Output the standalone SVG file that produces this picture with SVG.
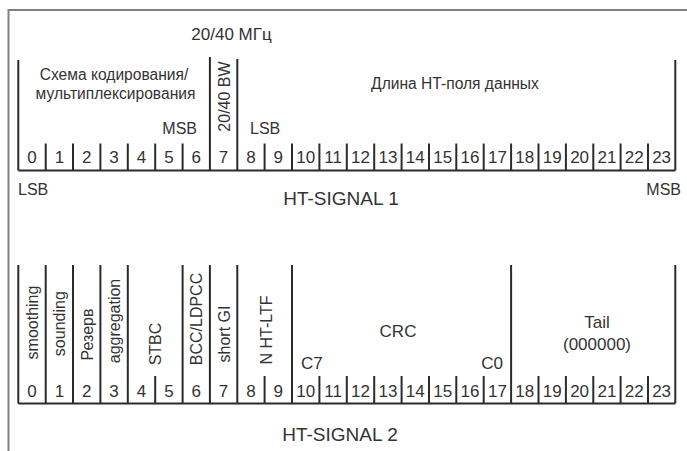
<svg xmlns="http://www.w3.org/2000/svg" width="687" height="451" viewBox="0 0 687 451">
<style>
text{font-family:"Liberation Sans",Arial,sans-serif;fill:#333;}
.d{font-size:17px;text-anchor:middle;}
.s15{font-size:15.6px;}
.s16{font-size:16px;}
.s17{font-size:17px;}
.s19{font-size:19px;}
.m{text-anchor:middle;}
.e{text-anchor:end;}
.ln{stroke:#2b2b2b;stroke-width:2;fill:none;}
.fr{stroke:#808080;stroke-width:2;fill:none;}
</style>
<rect width="687" height="451" fill="#fff"/>
<g id="frame"><path class="fr" d="M8.5,451 V10 H687"/></g>
<g id="connectors">
<path class="ln" d="M18.3,170.5 H675.3 M18.3,60 V170.5 M675.3,60 V170.5 M209.9,57 V170.5 M237.3,59 V170.5 M45.7,143.5 V170.5 M73,143.5 V170.5 M100.4,143.5 V170.5 M127.8,143.5 V170.5 M155.2,143.5 V170.5 M182.6,143.5 V170.5 M264.6,143.5 V170.5 M292,143.5 V170.5 M319.4,143.5 V170.5 M346.8,143.5 V170.5 M374.2,143.5 V170.5 M401.6,143.5 V170.5 M429,143.5 V170.5 M456.3,143.5 V170.5 M483.7,143.5 V170.5 M511.1,143.5 V170.5 M538.5,143.5 V170.5 M565.9,143.5 V170.5 M593.3,143.5 V170.5 M620.6,143.5 V170.5 M648,143.5 V170.5"/>
<path class="ln" d="M18.3,403.5 H675.3 M18.3,265 V403.5 M45.7,265 V403.5 M73,265 V403.5 M100.4,265 V403.5 M127.8,265 V403.5 M182.6,265 V403.5 M209.9,265 V403.5 M237.3,265 V403.5 M292,265 V403.5 M511.1,265 V403.5 M675.3,265 V403.5 M155.2,376 V403.5 M264.6,376 V403.5 M319.4,376 V403.5 M346.8,376 V403.5 M374.2,376 V403.5 M401.6,376 V403.5 M429,376 V403.5 M456.3,376 V403.5 M483.7,376 V403.5 M538.5,376 V403.5 M565.9,376 V403.5 M593.3,376 V403.5 M620.6,376 V403.5 M648,376 V403.5"/>
</g>
<g id="signal1">
<text class="s17 m" x="231.5" y="40">20/40 МГц</text>
<text class="s15 m" x="114" y="80">Схема кодирования/</text>
<text class="s15 m" x="115.5" y="99">мультиплексирования</text>
<text class="s16 e" x="197" y="134">MSB</text>
<text class="s16 m" transform="translate(230,96.5) rotate(-90)">20/40 BW</text>
<text class="s16" x="250" y="134">LSB</text>
<text class="s15 m" x="455" y="89">Длина HT-поля данных</text>
<text class="s16" x="18" y="195">LSB</text>
<text class="s16 e" x="681" y="195">MSB</text>
<text class="s19 m" x="341" y="204.5">HT-SIGNAL 1</text>
</g>
<g id="bits1">
<text class="d" x="32" y="163">0</text><text class="d" x="59.4" y="163">1</text><text class="d" x="86.7" y="163">2</text><text class="d" x="114.1" y="163">3</text><text class="d" x="141.5" y="163">4</text><text class="d" x="168.9" y="163">5</text><text class="d" x="196.3" y="163">6</text><text class="d" x="223.6" y="163">7</text><text class="d" x="251" y="163">8</text><text class="d" x="278.3" y="163">9</text><text class="d" x="305.7" y="163">10</text><text class="d" x="333.1" y="163">11</text><text class="d" x="360.5" y="163">12</text><text class="d" x="387.9" y="163">13</text><text class="d" x="415.3" y="163">14</text><text class="d" x="442.7" y="163">15</text><text class="d" x="470" y="163">16</text><text class="d" x="497.4" y="163">17</text><text class="d" x="524.8" y="163">18</text><text class="d" x="552.2" y="163">19</text><text class="d" x="579.6" y="163">20</text><text class="d" x="606.9" y="163">21</text><text class="d" x="634.3" y="163">22</text><text class="d" x="661.6" y="163">23</text>
</g>
<g id="signal2">
<text class="s16 m" transform="translate(38,322.5) rotate(-90)">smoothing</text>
<text class="s16 m" transform="translate(65.4,323.7) rotate(-90)">sounding</text>
<text class="s16 m" transform="translate(92.7,334.5) rotate(-90)">Резерв</text>
<text class="s16 m" transform="translate(120.1,321) rotate(-90)">aggregation</text>
<text class="s16 m" transform="translate(161,344) rotate(-90)">STBC</text>
<text class="s16 m" transform="translate(202.3,319) rotate(-90)">BCC/LDPCC</text>
<text class="s16 m" transform="translate(229.6,334) rotate(-90)">short GI</text>
<text class="s16 m" transform="translate(272,330) rotate(-90)">N HT-LTF</text>
<text class="s17 m" x="398" y="337">CRC</text>
<text class="s17" x="301" y="369">C7</text>
<text class="s17 e" x="503" y="369">C0</text>
<text class="s17 m" x="597" y="328">Tail</text>
<text class="s17 m" x="597" y="350">(000000)</text>
<text class="s19 m" x="340" y="441">HT-SIGNAL 2</text>
</g>
<g id="bits2">
<text class="d" x="32" y="397">0</text><text class="d" x="59.4" y="397">1</text><text class="d" x="86.7" y="397">2</text><text class="d" x="114.1" y="397">3</text><text class="d" x="141.5" y="397">4</text><text class="d" x="168.9" y="397">5</text><text class="d" x="196.3" y="397">6</text><text class="d" x="223.6" y="397">7</text><text class="d" x="251" y="397">8</text><text class="d" x="278.3" y="397">9</text><text class="d" x="305.7" y="397">10</text><text class="d" x="333.1" y="397">11</text><text class="d" x="360.5" y="397">12</text><text class="d" x="387.9" y="397">13</text><text class="d" x="415.3" y="397">14</text><text class="d" x="442.7" y="397">15</text><text class="d" x="470" y="397">16</text><text class="d" x="497.4" y="397">17</text><text class="d" x="524.8" y="397">18</text><text class="d" x="552.2" y="397">19</text><text class="d" x="579.6" y="397">20</text><text class="d" x="606.9" y="397">21</text><text class="d" x="634.3" y="397">22</text><text class="d" x="661.6" y="397">23</text>
</g>
</svg>
